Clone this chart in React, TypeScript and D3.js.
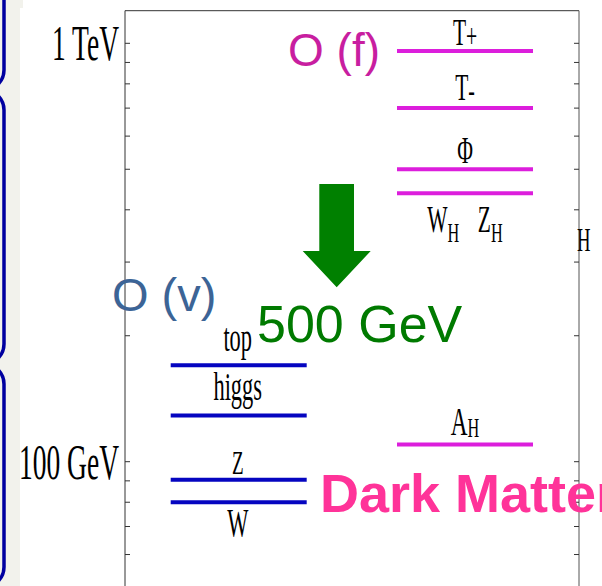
import React from "react";
import * as d3 from "d3";

// ---- data ----
const vNames = ["top", "higgs", "Z", "W"];
const vMasses = [170, 129, 90.5, 80];
const fNames = ["T_+", "T_-", "Φ", "W_H Z_H", "A_H"];
const fMasses = [958, 700, 500, 438, 110];
const tickValues = [60, 70, 80, 90, 100, 200, 300, 400, 500, 600, 700, 800, 900, 1000];
const majorTicks = [1000, 100];
const majorLabels = ["1 TeV", "100 GeV"];

// ---- layout ----
const W = 602;
const H = 586;
const axisLeft = 125;
const axisRight = 579;
const frameTop = 10.7;
const vX = [170.7, 306.7];
const fX = [397, 533];
// label baseline offsets relative to the level line
const vLabelOff = [-14, -15, -6, 34];
const fLabelOff = [-6, -8, -6, 39, -9];
const serif = "'Liberation Serif', 'Times New Roman', serif";
const sans = "'Liberation Sans', Arial, sans-serif";

const yScale = d3.scaleLog().domain([100, 1000]).range([461.7, 43.3]);

function Label({ text, x, y, size = 40, sub = 28, sx = 0.56, subDy = 10 }) {
  const parts = text.split(" ");
  const children: any[] = [];
  parts.forEach((p, i) => {
    const [main, s] = p.split("_");
    children.push(
      <tspan key={"m" + i} fontSize={size} dx={i > 0 ? 32 : 0} dy={i > 0 && parts[i - 1].includes("_") ? -subDy : 0}>
        {main}
      </tspan>
    );
    if (s) {
      children.push(
        <tspan key={"s" + i} fontSize={sub} dy={subDy}>
          {s}
        </tspan>
      );
    }
  });
  return (
    <text transform={`translate(${x},${y}) scale(${sx},1)`} textAnchor="middle" fontFamily={serif} fill="#000">
      {children}
    </text>
  );
}

export default function App() {
  const vCenter = (vX[0] + vX[1]) / 2 - 1;
  const fCenter = (fX[0] + fX[1]) / 2;
  return (
    <svg width={W} height={H} style={{ position: "absolute", left: 0, top: 0, background: "#fff" }}>
      {/* left decoration */}
      <rect x={0} y={0} width={20} height={H} fill="#f2f2ec" />
      <rect x={0} y={0} width={23} height={8} fill="#f2f2ec" />
      {[
        [-40, 90],
        [90, 364],
        [364, 587],
      ].map(([a, b], i) => (
        <rect key={i} x={-60} y={a} width={64} height={b - a} rx={20} ry={20} fill="none" stroke="#0000a0" strokeWidth={3.5} />
      ))}

      {/* frame */}
      <line x1={axisLeft} y1={frameTop} x2={axisRight} y2={frameTop} stroke="#333" strokeWidth={1} />
      <line x1={axisLeft} y1={frameTop} x2={axisLeft} y2={H} stroke="#333" strokeWidth={1} />
      <line x1={axisRight} y1={frameTop} x2={axisRight} y2={H} stroke="#555" strokeWidth={1} />
      {tickValues.map((t) => (
        <g key={t}>
          <line x1={axisLeft} x2={axisLeft + 5} y1={yScale(t)} y2={yScale(t)} stroke="#333" strokeWidth={1} />
          <line x1={axisRight} x2={axisRight - 5} y1={yScale(t)} y2={yScale(t)} stroke="#333" strokeWidth={1} />
        </g>
      ))}
      {majorTicks.map((t, i) => (
        <text key={t} transform={`translate(119,${yScale(t) + 17})scale(0.55,1)`} textAnchor="end" fontFamily={serif} fontSize={50} fill="#000">
          {majorLabels[i]}
        </text>
      ))}
      <text transform={`translate(577,251) scale(0.55,1)`} fontFamily={serif} fontSize={34} fill="#000">H</text>

      {/* O(v) levels */}
      {vMasses.map((m, i) => (
        <g key={vNames[i]}>
          <line x1={vX[0]} x2={vX[1]} y1={yScale(m)} y2={yScale(m)} stroke="#0505c0" strokeWidth={4} />
          <Label text={vNames[i]} x={vCenter} y={yScale(m) + vLabelOff[i]} size={i === 2 ? 34 : 40} />
        </g>
      ))}

      {/* O(f) levels */}
      {fMasses.map((m, i) => (
        <g key={fNames[i]}>
          <line x1={fX[0]} x2={fX[1]} y1={yScale(m)} y2={yScale(m)} stroke="#dc1edc" strokeWidth={4} />
          <Label
            text={fNames[i]}
            x={fCenter}
            y={yScale(m) + fLabelOff[i]}
            size={i === 4 ? 40 : 37}
            sub={i < 2 ? 34 : 28}
            sx={0.58}
            subDy={i < 2 ? 2 : i === 4 ? 2 : 10}
          />
        </g>
      ))}

      {/* annotations */}
      <text x={288} y={66} fontFamily={sans} fontSize={46} fill="#c81ea0">O (f)</text>
      <text x={112} y={311} fontFamily={sans} fontSize={47} fill="#3c6496">O (v)</text>
      <text x={257} y={342} fontFamily={sans} fontSize={52} fill="#007a00">500 GeV</text>
      <path d="M319.3,184 L354,184 L354,251 L370.7,251 L336.7,287.3 L302.7,251 L319.3,251 Z" fill="#008000" />
      <text x={320} y={512} fontFamily={sans} fontWeight="bold" fontSize={54} fill="#ff3399">Dark Matter</text>
    </svg>
  );
}
